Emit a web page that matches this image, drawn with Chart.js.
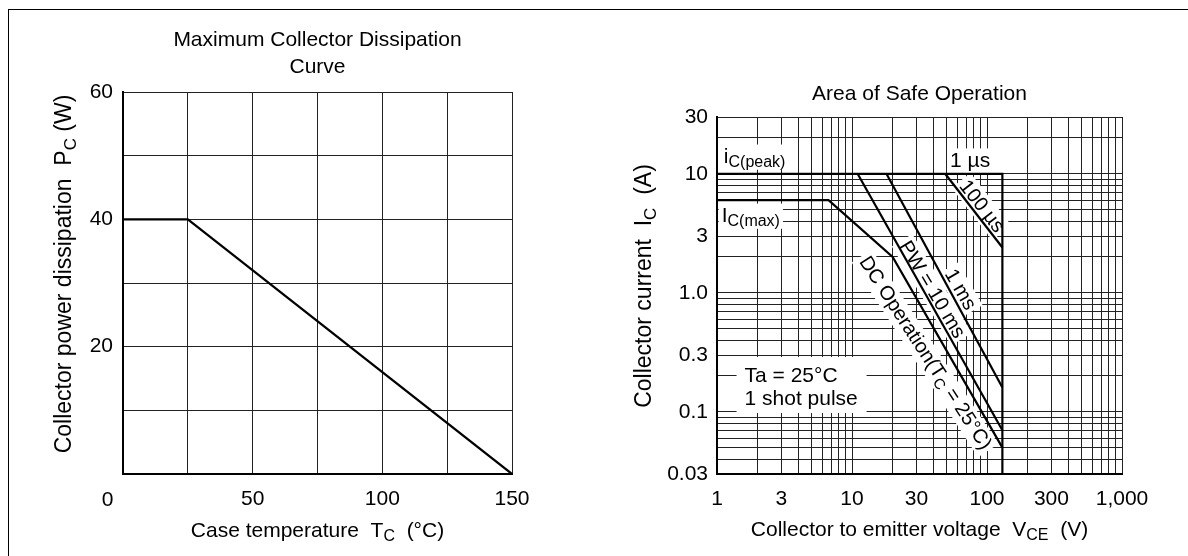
<!DOCTYPE html>
<html>
<head>
<meta charset="utf-8">
<script src="https://cdn.jsdelivr.net/npm/chart.js@4.4.0/dist/chart.umd.min.js"></script>
<style>
  html, body { margin: 0; padding: 0; background: #fff; overflow: hidden; }
  #frame { position: absolute; left: 8px; top: 9px; width: 1300px; height: 700px;
           border-left: 1.5px solid #000; border-top: 1.5px solid #000; }
  canvas { position: absolute; left: 0; top: 0; }
</style>
</head>
<body>
<div id="frame"></div>
<canvas id="dissipation" width="1188" height="556"></canvas>
<canvas id="soa" width="1188" height="556"></canvas>
<script>
// --- left chart: maximum collector dissipation ---
const caseTemp = [0, 25, 150];          // Tc (°C)
const powerDiss = [40, 40, 0];          // Pc (W)
const dissXLabels = [50, 100, 150];
const dissYLabels = [20, 40, 60];

// --- right chart: area of safe operation ---
const peakV = [1, 130, 130];            // iC(peak) / 1 µs boundary
const peakI = [10, 10, 0.03];
const us100V = [49, 130];
const us100I = [10, 2.4];
const ms1V = [18, 130];
const ms1I = [10, 0.16];
const ms10V = [11, 130];
const ms10I = [10, 0.07];
const dcV = [1, 6.7, 20, 130];          // DC operation, Tc = 25°C
const dcI = [6, 6, 2, 0.05];
const soaXLabels = [1, 3, 10, 30, 100, 300, 1000];
const soaXText = ['1', '3', '10', '30', '100', '300', '1,000'];
const soaYLabels = [0.03, 0.1, 0.3, 1, 3, 10, 30];
const soaYText = ['0.03', '0.1', '0.3', '1.0', '3', '10', '30'];

const FAMILY = '"Liberation Sans", Arial, Helvetica, sans-serif';
const FS = 21;      // ticks, titles, flat notes
const ROT = 20;     // rotated notes along the limit lines
const YT = 23;      // rotated axis titles

function pts(xs, ys) { return xs.map((x, i) => ({ x: x, y: ys[i] })); }

// log grid lines: 1..9 in every decade
function logGrid(min, max) {
  const out = [];
  for (let e = Math.floor(Math.log10(min)); e <= Math.ceil(Math.log10(max)); e++) {
    for (let m = 1; m <= 9; m++) {
      const v = parseFloat((m * Math.pow(10, e)).toPrecision(3));
      if (v >= min - 1e-9 && v <= max + 1e-9) out.push(v);
    }
  }
  return out;
}

function labelFor(value, vals, texts) {
  for (let i = 0; i < vals.length; i++) {
    if (Math.abs(Math.log10(value) - Math.log10(vals[i])) < 1e-6) return texts[i];
  }
  return '';
}

// text with subscripts: parts = [[text, isSub], ...]
function drawRich(ctx, parts, x, y, opt) {
  opt = opt || {};
  const size = opt.size || FS;
  const sub = Math.round(size * 0.76);
  ctx.save();
  ctx.translate(x, y);
  ctx.rotate((opt.angle || 0) * Math.PI / 180);
  let w = 0;
  const widths = parts.map(p => {
    ctx.font = (p[1] ? sub : size) + 'px ' + FAMILY;
    const m = ctx.measureText(p[0]).width;
    w += m;
    return m;
  });
  let cx = opt.align === 'left' ? 0 : -w / 2;
  if (opt.bgOnly) {
    ctx.fillStyle = '#fff';
    ctx.fillRect(cx - 3, -size * 0.6, w + 6, size * 1.2);
    ctx.restore();
    return;
  }
  ctx.fillStyle = '#000';
  ctx.textBaseline = 'middle';
  ctx.textAlign = 'left';
  parts.forEach((p, i) => {
    ctx.font = (p[1] ? sub : size) + 'px ' + FAMILY;
    ctx.fillText(p[0], cx, p[1] ? size * 0.27 : 0);
    cx += widths[i];
  });
  ctx.restore();
}

// annotations in data coordinates
const soaNotes = [
  { v: 1.9, i: 13.8, parts: [['i', 0], ['C(peak)', 1]] },
  { v: 1.78, i: 4.4, parts: [['I', 0], ['C(max)', 1]] },
  { v: 75, i: 12.8, parts: [['1 µs', 0]] },
  { v: 91, i: 5.3, parts: [['100 µs', 0]], angle: 52, size: ROT },
  { v: 63, i: 1.06, parts: [['1 ms', 0]], angle: 60, size: ROT },
  { v: 39, i: 1.06, parts: [['PW = 10 ms', 0]], angle: 59, size: ROT },
  { v: 34.7, i: 0.31, parts: [['DC Operation(T', 0], ['C', 1], [' = 25°C)', 0]], angle: 57, size: ROT }
];

// plugin built per chart, so its callbacks never pass through option resolution
function textPlugin(cfg) {
  return {
    id: 'texts',
    beforeDatasetsDraw(chart) {
      const ctx = chart.ctx;
      (cfg.notes || []).forEach(n => {
        const x = chart.scales.x.getPixelForValue(n.v);
        const y = chart.scales.y.getPixelForValue(n.i);
        drawRich(ctx, n.parts, x, y, { angle: n.angle, size: n.size, bgOnly: true });
      });
      if (cfg.box) cfg.box(chart, ctx);
    },
    afterDatasetsDraw(chart) {
      const ctx = chart.ctx;
      (cfg.notes || []).forEach(n => {
        const x = chart.scales.x.getPixelForValue(n.v);
        const y = chart.scales.y.getPixelForValue(n.i);
        drawRich(ctx, n.parts, x, y, { angle: n.angle, size: n.size });
      });
      cfg.draw(chart, ctx);
    }
  };
}

const lineStyle = { borderColor: '#000', borderWidth: 2.2, pointRadius: 0, fill: false, tension: 0 };
const gridStyle = { color: '#222', lineWidth: 1, drawTicks: false };
const borderStyle = { color: '#000', width: 2 };

// ---------- left chart ----------
new Chart(document.getElementById('dissipation'), {
  type: 'line',
  data: { datasets: [Object.assign({ data: pts(caseTemp, powerDiss) }, lineStyle)] },
  options: {
    responsive: false, animation: false,
    layout: { autoPadding: false, padding: { left: 63, right: 676, top: 92, bottom: 0 } },
    plugins: { legend: { display: false }, tooltip: { enabled: false } },
    scales: {
      x: {
        type: 'linear', min: 0, max: 150,
        afterFit(s) { s.height = 82; },
        grid: gridStyle,
        border: borderStyle,
        ticks: {
          stepSize: 25, padding: 13, color: '#000', autoSkip: false, maxRotation: 0,
          font: { family: FAMILY, size: FS },
          callback: v => dissXLabels.includes(v) ? String(v) : ''
        }
      },
      y: {
        type: 'linear', min: 0, max: 60,
        afterFit(s) { s.width = 60; },
        grid: gridStyle,
        border: borderStyle,
        ticks: {
          stepSize: 10, padding: 10, color: '#000', autoSkip: false,
          font: { family: FAMILY, size: FS },
          callback: v => dissYLabels.includes(v) ? String(v) : ''
        }
      }
    }
  },
  plugins: [textPlugin({
    draw(chart, ctx) {
      const a = chart.chartArea;
      const cx = (a.left + a.right) / 2;
      drawRich(ctx, [['Maximum Collector Dissipation', 0]], cx, a.top - 52);
      drawRich(ctx, [['Curve', 0]], cx, a.top - 25);
      drawRich(ctx, [['Collector power dissipation  P', 0], ['C', 1], [' (W)', 0]], a.left - 58, 274, { angle: -90, size: YT });
      drawRich(ctx, [['Case temperature  T', 0], ['C', 1], ['  (°C)', 0]], cx, a.bottom + 57);
      drawRich(ctx, [['0', 0]], a.left - 15.5, a.bottom + 26);
    }
  })]
});

// ---------- right chart ----------
new Chart(document.getElementById('soa'), {
  type: 'line',
  data: {
    datasets: [
      Object.assign({ data: pts(peakV, peakI) }, lineStyle),
      Object.assign({ data: pts(us100V, us100I) }, lineStyle),
      Object.assign({ data: pts(ms1V, ms1I) }, lineStyle),
      Object.assign({ data: pts(ms10V, ms10I) }, lineStyle),
      Object.assign({ data: pts(dcV, dcI) }, lineStyle)
    ]
  },
  options: {
    responsive: false, animation: false,
    layout: { autoPadding: false, padding: { left: 657, right: 66, top: 117, bottom: 0 } },
    plugins: { legend: { display: false }, tooltip: { enabled: false } },
    scales: {
      x: {
        type: 'logarithmic', min: 1, max: 1000,
        afterFit(s) { s.height = 82; },
        afterBuildTicks(s) { s.ticks = logGrid(1, 1000).map(v => ({ value: v })); },
        grid: gridStyle,
        border: borderStyle,
        ticks: {
          padding: 13, color: '#000', autoSkip: false, maxRotation: 0,
          font: { family: FAMILY, size: FS },
          callback: v => labelFor(v, soaXLabels, soaXText)
        }
      },
      y: {
        type: 'logarithmic', min: 0.03, max: 30,
        afterFit(s) { s.width = 60; },
        afterBuildTicks(s) { s.ticks = logGrid(0.03, 30).map(v => ({ value: v })); },
        grid: gridStyle,
        border: borderStyle,
        ticks: {
          padding: 9, color: '#000', autoSkip: false,
          font: { family: FAMILY, size: FS },
          callback: v => labelFor(v, soaYLabels, soaYText)
        }
      }
    }
  },
  plugins: [textPlugin({
    notes: soaNotes,
    box(chart, ctx) {
      // white panel behind the test-condition note
      const x = chart.scales.x.getPixelForValue(1.6);
      const y1 = chart.scales.y.getPixelForValue(0.2);
      const y2 = chart.scales.y.getPixelForValue(0.128);
      ctx.save();
      ctx.fillStyle = '#fff';
      ctx.fillRect(x - 8, y1 - 19, 130, y2 - y1 + 33);
      ctx.restore();
    },
    draw(chart, ctx) {
      const a = chart.chartArea;
      const x = chart.scales.x.getPixelForValue(1.6);
      drawRich(ctx, [['Ta = 25°C', 0]], x, chart.scales.y.getPixelForValue(0.2), { align: 'left' });
      drawRich(ctx, [['1 shot pulse', 0]], x, chart.scales.y.getPixelForValue(0.128), { align: 'left' });
      const cx = (a.left + a.right) / 2;
      drawRich(ctx, [['Area of Safe Operation', 0]], cx, a.top - 23);
      drawRich(ctx, [['Collector current  I', 0], ['C', 1], ['  (A)', 0]], a.left - 72, 286, { angle: -90, size: YT });
      drawRich(ctx, [['Collector to emitter voltage  V', 0], ['CE', 1], ['  (V)', 0]], cx, a.bottom + 56);
    }
  })]
});
</script>
</body>
</html>
